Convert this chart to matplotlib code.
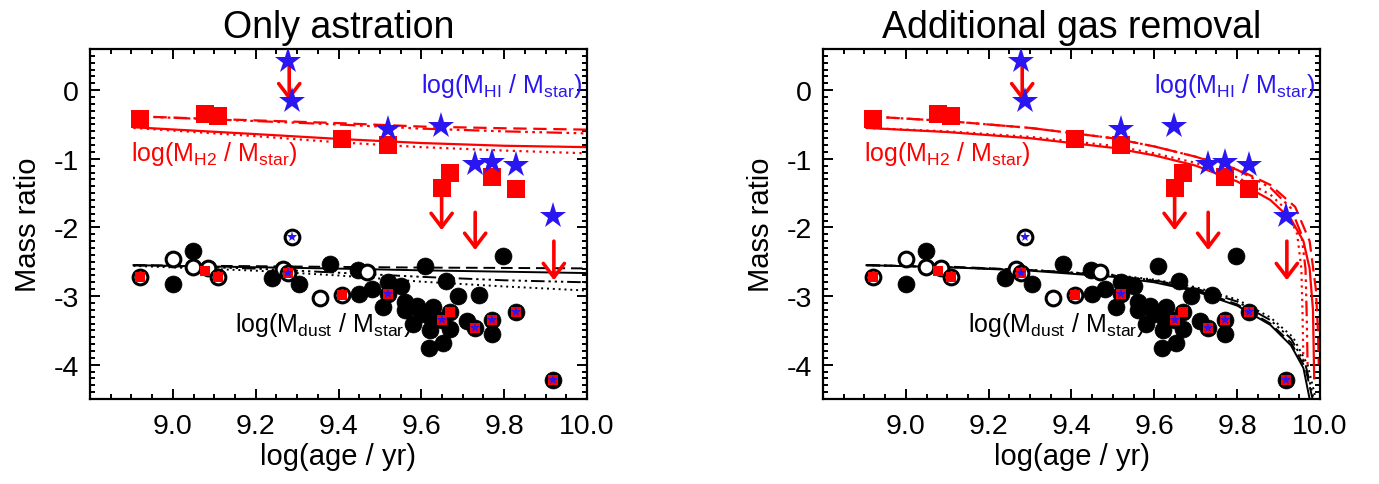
import numpy as np
import matplotlib
matplotlib.use("Agg")
import matplotlib.pyplot as plt
from matplotlib.ticker import MultipleLocator, FixedLocator, FormatStrFormatter

plt.rcParams['font.family'] = ['Liberation Sans', 'DejaVu Sans']
plt.rcParams['mathtext.fontset'] = 'custom'
plt.rcParams['mathtext.rm'] = 'Liberation Sans'
plt.rcParams['mathtext.it'] = 'Liberation Sans:italic'
plt.rcParams['axes.unicode_minus'] = False

RED = '#ff0000'
BLUE = '#2a16f0'

# ---------------- observations ----------------
# molecular gas (log M_H2 / M_star)
h2_age = [8.921, 9.078, 9.110, 9.409, 9.519, 9.649, 9.669, 9.770, 9.829]
h2_val = [-0.42, -0.35, -0.38, -0.71, -0.80, -1.42, -1.20, -1.27, -1.44]

# atomic gas (log M_HI / M_star)
hi_age = [9.279, 9.287, 9.519, 9.647, 9.730, 9.770, 9.829, 9.917]
hi_val = [0.43, -0.16, -0.56, -0.52, -1.08, -1.04, -1.09, -1.84]

# upper limits (start, end of arrow)
lim_age = [9.281, 9.649, 9.730, 9.920]
lim_top = [0.40, -1.42, -1.78, -2.20]
lim_bot = [-0.15, -2.04, -2.33, -2.77]

# dust (log M_dust / M_star): detections
dust_age = [9.000, 9.049, 9.239, 9.305, 9.379, 9.448, 9.449, 9.480, 9.520, 9.551,
            9.508, 9.561, 9.561, 9.590, 9.579, 9.629, 9.609, 9.660, 9.689, 9.739,
            9.798, 9.621, 9.619, 9.653, 9.669, 9.625, 9.710, 9.770, 9.600, 9.519,
            9.649, 9.730, 9.770, 9.829, 9.919, 9.669]
dust_val = [-2.82, -2.34, -2.74, -2.82, -2.53, -2.62, -2.97, -2.90, -2.80, -2.85,
            -3.16, -3.09, -3.21, -3.14, -3.41, -3.16, -2.56, -2.78, -3.00, -2.98,
            -2.42, -3.50, -3.75, -3.69, -3.48, -3.35, -3.37, -3.55, -3.26, -2.97,
            -3.35, -3.47, -3.35, -3.23, -4.22, -3.23]

# dust: open symbols
dust_open_age = [8.921, 9.000, 9.049, 9.086, 9.110, 9.267, 9.279, 9.287, 9.355, 9.409, 9.468]
dust_open_val = [-2.72, -2.46, -2.58, -2.585, -2.72, -2.60, -2.66, -2.14, -3.03, -2.99, -2.65]

# dust galaxies that also have H2 / HI measurements
dust_h2_age = [8.921, 9.078, 9.110, 9.279, 9.409, 9.519, 9.649, 9.669, 9.730, 9.770, 9.829, 9.919]
dust_h2_val = [-2.72, -2.63, -2.72, -2.66, -2.99, -2.97, -3.35, -3.23, -3.47, -3.35, -3.23, -4.22]
dust_hi_age = [9.279, 9.287, 9.519, 9.649, 9.730, 9.770, 9.829, 9.919]
dust_hi_val = [-2.66, -2.14, -2.97, -3.35, -3.47, -3.35, -3.23, -4.22]

# ---------------- model tracks: only astration ----------------
ma_age = [8.905, 9.2, 9.4, 9.6, 9.8, 10.0]
ma_h2_solid = [-0.54, -0.64, -0.71, -0.77, -0.81, -0.83]
ma_h2_dotted = [-0.55, -0.67, -0.76, -0.83, -0.88, -0.92]
ma_h2_dashed = [-0.38, -0.44, -0.48, -0.53, -0.555, -0.575]
ma_h2_dashdot = [-0.38, -0.45, -0.50, -0.56, -0.60, -0.63]
ma_d_solid = [-2.55, -2.58, -2.60, -2.625, -2.645, -2.665]
ma_d_dashed = [-2.55, -2.565, -2.575, -2.585, -2.59, -2.597]
ma_d_dashdot = [-2.55, -2.60, -2.66, -2.72, -2.77, -2.80]
ma_d_dotted = [-2.56, -2.63, -2.70, -2.79, -2.86, -2.92]

# ---------------- model tracks: additional gas removal ----------------
gr_h2_solid_age = [8.905, 9.1, 9.3, 9.5, 9.6, 9.7, 9.8, 9.88, 9.93, 9.96, 9.975, 9.983, 9.986]
gr_h2_solid = [-0.55, -0.61, -0.70, -0.84, -0.95, -1.10, -1.33, -1.60, -1.88, -2.20, -2.60, -3.20, -4.20]
gr_h2_dotted_age = [8.905, 9.1, 9.3, 9.5, 9.6, 9.7, 9.8, 9.88, 9.92, 9.945, 9.955, 9.958, 9.960]
gr_h2_dotted = [-0.55, -0.60, -0.68, -0.81, -0.92, -1.06, -1.27, -1.52, -1.75, -2.10, -2.60, -3.30, -4.00]
gr_h2_dashdot_age = [8.905, 9.1, 9.3, 9.5, 9.6, 9.7, 9.8, 9.88, 9.93, 9.955, 9.965, 9.968, 9.970]
gr_h2_dashdot = [-0.38, -0.45, -0.55, -0.70, -0.82, -0.97, -1.16, -1.42, -1.72, -2.10, -2.60, -3.30, -4.00]
gr_h2_dashed_age = [8.905, 9.1, 9.3, 9.5, 9.6, 9.7, 9.8, 9.88, 9.94, 9.975, 9.990, 9.995, 9.997]
gr_h2_dashed = [-0.38, -0.45, -0.55, -0.70, -0.82, -0.97, -1.15, -1.38, -1.70, -2.20, -2.90, -3.50, -4.00]

gr_d_solid_age = [8.905, 9.1, 9.3, 9.5, 9.6, 9.7, 9.8, 9.88, 9.93, 9.96, 9.975]
gr_d_solid = [-2.55, -2.58, -2.63, -2.72, -2.80, -2.93, -3.14, -3.42, -3.72, -4.05, -4.50]
gr_d_dashed_age = [8.905, 9.1, 9.3, 9.5, 9.6, 9.7, 9.8, 9.88, 9.93, 9.965, 9.982]
gr_d_dashed = [-2.55, -2.57, -2.62, -2.70, -2.78, -2.91, -3.12, -3.40, -3.68, -4.05, -4.50]
gr_d_dashdot_age = [8.905, 9.1, 9.3, 9.5, 9.6, 9.7, 9.8, 9.88, 9.93, 9.965, 9.985]
gr_d_dashdot = [-2.55, -2.58, -2.62, -2.70, -2.77, -2.89, -3.08, -3.35, -3.62, -4.00, -4.50]
gr_d_dotted_age = [8.905, 9.1, 9.3, 9.5, 9.6, 9.7, 9.8, 9.88, 9.935, 9.97, 9.99]
gr_d_dotted = [-2.55, -2.58, -2.62, -2.69, -2.76, -2.87, -3.05, -3.31, -3.60, -4.00, -4.50]

x_ticks = [9.0, 9.2, 9.4, 9.6, 9.8, 10.0]
y_ticks = [0, -1, -2, -3, -4]

DASHDOT3 = (0, (7, 2, 1.2, 2, 1.2, 2, 1.2, 2))


def draw_models(ax, red_tracks, black_tracks):
    for xs, ys, ls in red_tracks:
        ax.plot(xs, ys, color=RED, lw=1.6, ls=ls, zorder=2)
    for xs, ys, ls in black_tracks:
        ax.plot(xs, ys, color='black', lw=1.4, ls=ls, zorder=2)


def draw_obs(ax):
    # dust
    ax.plot(dust_age, dust_val, 'o', ms=12.2, mfc='black', mec='black', mew=0.5, zorder=3)
    ax.plot(dust_open_age, dust_open_val, 'o', ms=10.6, mfc='white', mec='black', mew=2.2, zorder=3)
    ax.plot(dust_h2_age, dust_h2_val, 's', ms=7.2, mfc=RED, mec=RED, mew=0, zorder=4)
    ax.plot(dust_hi_age, dust_hi_val, '*', ms=8, mfc=BLUE, mec=BLUE, mew=0, zorder=5)
    # upper limits
    for x, y0, y1 in zip(lim_age, lim_top, lim_bot):
        ax.annotate('', xy=(x, y1), xytext=(x, y0),
                    arrowprops=dict(arrowstyle='->,head_length=0.5,head_width=0.38',
                                    color=RED, lw=2.6, shrinkA=0, shrinkB=0,
                                    mutation_scale=20),
                    zorder=3)
    # gas
    ax.plot(h2_age, h2_val, 's', ms=12.8, mfc=RED, mec=RED, mew=0, zorder=6)
    ax.plot(hi_age, hi_val, '*', ms=20, mfc=BLUE, mec=BLUE, mew=0, zorder=7)


def style_axes(ax, title):
    ax.set_xlim(8.8, 10.0)
    ax.set_ylim(-4.5, 0.6)
    ax.xaxis.set_major_locator(FixedLocator(x_ticks))
    ax.xaxis.set_major_formatter(FormatStrFormatter('%.1f'))
    ax.xaxis.set_minor_locator(MultipleLocator(0.05))
    ax.yaxis.set_major_locator(FixedLocator(y_ticks))
    ax.yaxis.set_major_formatter(FormatStrFormatter('%d'))
    ax.yaxis.set_minor_locator(MultipleLocator(0.1))
    ax.tick_params(which='both', direction='in', top=True, right=True, width=1.4,
                   labelsize=20.5)
    ax.tick_params(which='major', length=7)
    ax.tick_params(which='minor', length=3.5)
    ax.tick_params(axis='x', which='major', pad=10)
    ax.tick_params(axis='y', which='major', pad=8)
    for s in ax.spines.values():
        s.set_linewidth(1.6)
    ax.set_xlabel('log(age / yr)', fontsize=21, labelpad=2)
    ax.set_ylabel('Mass ratio', fontsize=21, labelpad=8)
    ax.set_title(title, fontsize=27, pad=9)
    ax.text(9.60, 0.07, r'log(M$_{\mathrm{HI}}$ / M$_{\mathrm{star}}$)', color=BLUE,
            fontsize=18, ha='left', va='center', zorder=8)
    ax.text(8.90, -0.91, r'log(M$_{\mathrm{H2}}$ / M$_{\mathrm{star}}$)', color=RED,
            fontsize=18, ha='left', va='center', zorder=8)
    ax.text(9.15, -3.41, r'log(M$_{\mathrm{dust}}$ / M$_{\mathrm{star}}$)', color='black',
            fontsize=18, ha='left', va='center', zorder=8)


fig = plt.figure(figsize=(13.79, 4.85), dpi=100)
axL = fig.add_axes([90 / 1379, 85 / 485, 497 / 1379, 350 / 485])
axR = fig.add_axes([823 / 1379, 85 / 485, 497 / 1379, 350 / 485])

draw_models(axL,
            [(ma_age, ma_h2_dashed, (0, (6, 3))),
             (ma_age, ma_h2_dashdot, DASHDOT3),
             (ma_age, ma_h2_solid, '-'),
             (ma_age, ma_h2_dotted, (0, (1, 2)))],
            [(ma_age, ma_d_dashed, (0, (6, 3))),
             (ma_age, ma_d_dashdot, DASHDOT3),
             (ma_age, ma_d_solid, '-'),
             (ma_age, ma_d_dotted, (0, (1, 2)))])
draw_obs(axL)
style_axes(axL, 'Only astration')

draw_models(axR,
            [(gr_h2_dashed_age, gr_h2_dashed, (0, (6, 3))),
             (gr_h2_dashdot_age, gr_h2_dashdot, DASHDOT3),
             (gr_h2_solid_age, gr_h2_solid, '-'),
             (gr_h2_dotted_age, gr_h2_dotted, (0, (1, 2)))],
            [(gr_d_dashed_age, gr_d_dashed, (0, (6, 3))),
             (gr_d_dashdot_age, gr_d_dashdot, DASHDOT3),
             (gr_d_solid_age, gr_d_solid, '-'),
             (gr_d_dotted_age, gr_d_dotted, (0, (1, 2)))])
draw_obs(axR)
style_axes(axR, 'Additional gas removal')

fig.savefig('out.png', dpi=100)
